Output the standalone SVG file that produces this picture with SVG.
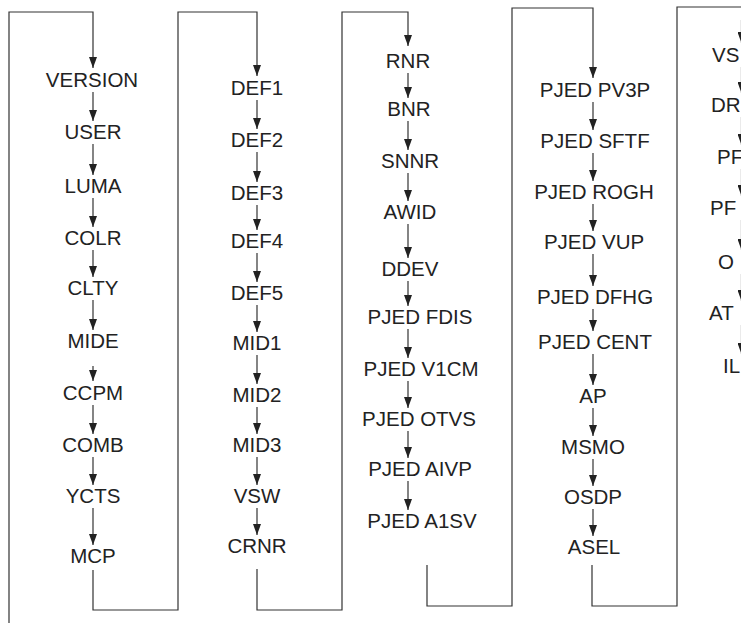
<svg xmlns="http://www.w3.org/2000/svg" width="741" height="623" viewBox="0 0 741 623">
<style>
text{font-family:"Liberation Sans",Arial,sans-serif;font-size:20.5px;fill:#222;text-anchor:middle}
text.s{text-anchor:start}
.c{fill:none;stroke:#333;stroke-width:1.2}
.a{fill:none;stroke:#333;stroke-width:1.2;marker-end:url(#ah)}
</style>
<defs>
<marker id="ah" markerUnits="userSpaceOnUse" markerWidth="8" markerHeight="11" refX="4" refY="11" orient="0" viewBox="0 0 8 11">
<path d="M0,0 L8,0 L4,11 z" fill="#222"/>
</marker>
</defs>
<rect width="741" height="623" fill="#fff"/>
<g id="connectors">
<path class="a" d="M9,623 V12 H93 V68"/>
<path class="a" d="M93,570 V610 H178 V12 H257 V76"/>
<path class="a" d="M257,569 V610 H342 V12 H408 V46"/>
<path class="a" d="M427,565 V606 H512 V8 H593 V78"/>
<path class="c" d="M592,565 V606 H677 V7 H741"/>
<path class="a" d="M93,92 V121"/>
<path class="a" d="M93,144 V175"/>
<path class="a" d="M93,198 V227"/>
<path class="a" d="M93,250 V277"/>
<path class="a" d="M93,300 V330"/>
<path class="a" d="M93,366 V381"/>
<path class="a" d="M93,405 V434"/>
<path class="a" d="M93,457 V485"/>
<path class="a" d="M93,508 V545"/>
<path class="a" d="M257,100 V129"/>
<path class="a" d="M257,152 V182"/>
<path class="a" d="M257,205 V230"/>
<path class="a" d="M257,253 V282"/>
<path class="a" d="M257,305 V332"/>
<path class="a" d="M257,355 V384"/>
<path class="a" d="M257,407 V434"/>
<path class="a" d="M257,457 V485"/>
<path class="a" d="M257,508 V535"/>
<path class="a" d="M408,73 V98"/>
<path class="a" d="M408,121 V150"/>
<path class="a" d="M408,173 V201"/>
<path class="a" d="M408,224 V258"/>
<path class="a" d="M408,281 V306"/>
<path class="a" d="M408,329 V358"/>
<path class="a" d="M408,381 V408"/>
<path class="a" d="M408,431 V458"/>
<path class="a" d="M408,481 V510"/>
<path class="a" d="M593,102 V130"/>
<path class="a" d="M593,153 V181"/>
<path class="a" d="M593,204 V231"/>
<path class="a" d="M593,254 V286"/>
<path class="a" d="M593,309 V331"/>
<path class="a" d="M593,354 V385"/>
<path class="a" d="M593,408 V436"/>
<path class="a" d="M593,459 V486"/>
<path class="a" d="M593,509 V536"/>
<path class="a" d="M741.5,20 V43"/>
<path class="a" d="M741.5,67 V93"/>
<path class="a" d="M741.5,117 V145"/>
<path class="a" d="M741.5,169 V196"/>
<path class="a" d="M741.5,220 V250"/>
<path class="a" d="M741.5,274 V301"/>
<path class="a" d="M741.5,325 V354"/>
</g>
<g id="n-version"><text x="92" y="87">VERSION</text></g>
<g id="n-user"><text x="93" y="139">USER</text></g>
<g id="n-luma"><text x="93" y="193">LUMA</text></g>
<g id="n-colr"><text x="93" y="245">COLR</text></g>
<g id="n-clty"><text x="93" y="295">CLTY</text></g>
<g id="n-mide"><text x="93" y="348">MIDE</text></g>
<g id="n-ccpm"><text x="93" y="400">CCPM</text></g>
<g id="n-comb"><text x="93" y="452">COMB</text></g>
<g id="n-ycts"><text x="93" y="503">YCTS</text></g>
<g id="n-mcp"><text x="93" y="563">MCP</text></g>
<g id="n-def1"><text x="257" y="95">DEF1</text></g>
<g id="n-def2"><text x="257" y="147">DEF2</text></g>
<g id="n-def3"><text x="257" y="200">DEF3</text></g>
<g id="n-def4"><text x="257" y="248">DEF4</text></g>
<g id="n-def5"><text x="257" y="300">DEF5</text></g>
<g id="n-mid1"><text x="257" y="350">MID1</text></g>
<g id="n-mid2"><text x="257" y="402">MID2</text></g>
<g id="n-mid3"><text x="257" y="452">MID3</text></g>
<g id="n-vsw"><text x="257" y="503">VSW</text></g>
<g id="n-crnr"><text x="257" y="553">CRNR</text></g>
<g id="n-rnr"><text x="408" y="68">RNR</text></g>
<g id="n-bnr"><text x="409" y="116">BNR</text></g>
<g id="n-snnr"><text x="410" y="168">SNNR</text></g>
<g id="n-awid"><text x="410" y="219">AWID</text></g>
<g id="n-ddev"><text x="410" y="276">DDEV</text></g>
<g id="n-fdis"><text x="420" y="324">PJED FDIS</text></g>
<g id="n-v1cm"><text x="421" y="376">PJED V1CM</text></g>
<g id="n-otvs"><text x="419" y="426">PJED OTVS</text></g>
<g id="n-aivp"><text x="420" y="476">PJED AIVP</text></g>
<g id="n-a1sv"><text x="422" y="528">PJED A1SV</text></g>
<g id="n-pv3p"><text x="595" y="97">PJED PV3P</text></g>
<g id="n-sftf"><text x="595" y="148">PJED SFTF</text></g>
<g id="n-rogh"><text x="594" y="199">PJED ROGH</text></g>
<g id="n-vup"><text x="594" y="249">PJED VUP</text></g>
<g id="n-dfhg"><text x="595" y="304">PJED DFHG</text></g>
<g id="n-cent"><text x="595" y="349">PJED CENT</text></g>
<g id="n-ap"><text x="593" y="403">AP</text></g>
<g id="n-msmo"><text x="593" y="454">MSMO</text></g>
<g id="n-osdp"><text x="593" y="504">OSDP</text></g>
<g id="n-asel"><text x="594" y="554">ASEL</text></g>
<g id="n-vs"><text class="s" x="712" y="62">VS</text></g>
<g id="n-dr"><text class="s" x="711" y="112">DR</text></g>
<g id="n-pf1"><text class="s" x="717" y="164">PF</text></g>
<g id="n-pf2"><text class="s" x="710" y="215">PF</text></g>
<g id="n-o"><text class="s" x="718" y="269">O</text></g>
<g id="n-at"><text class="s" x="709" y="320">AT</text></g>
<g id="n-il"><text class="s" x="723" y="373">IL</text></g>
</svg>
